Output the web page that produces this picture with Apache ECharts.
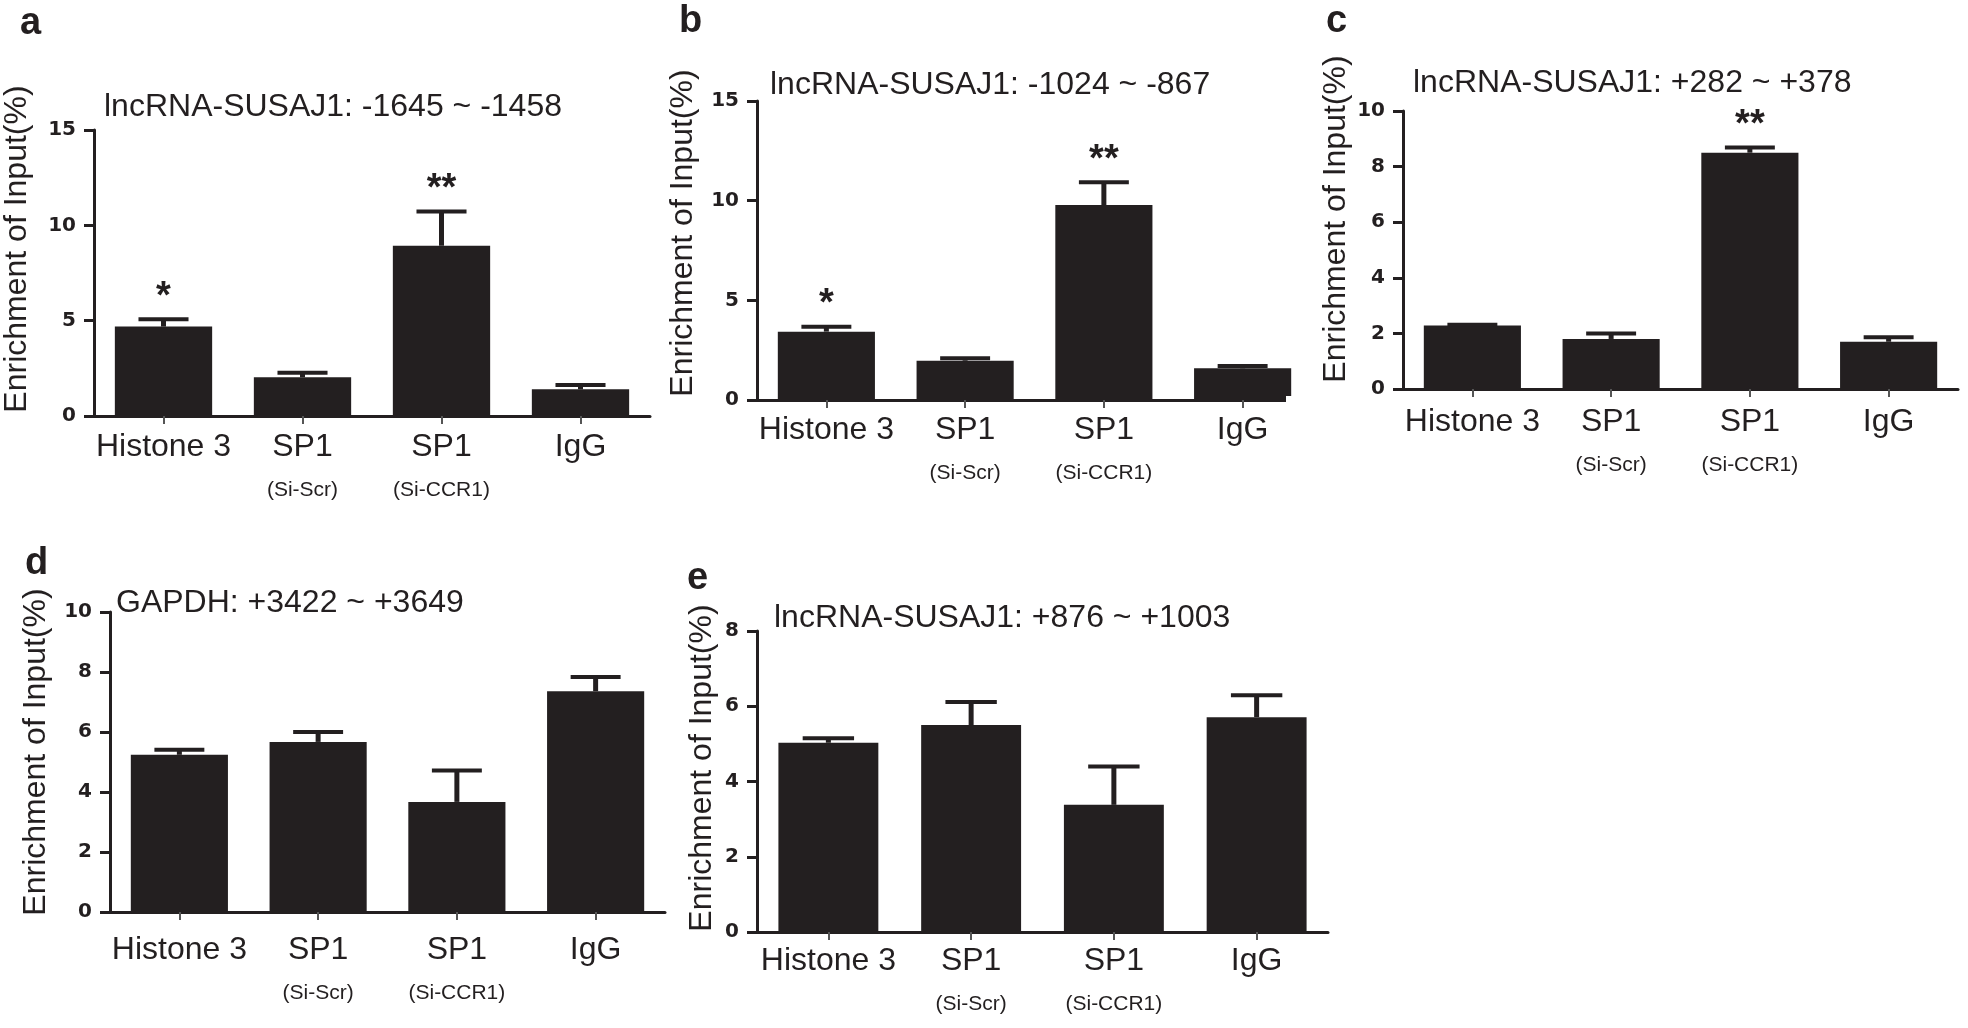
<!DOCTYPE html>
<html>
<head>
<meta charset="utf-8">
<script src="https://cdn.jsdelivr.net/npm/echarts@6/dist/echarts.min.js"></script>
<style>html,body{margin:0;padding:0;background:#fff}#c{width:1968px;height:1028px}</style>
</head>
<body>
<div id="c"></div>
<script>
// ---- data ----
const groups = ['Histone 3', 'SP1', 'SP1', 'IgG'];
const subLabels = ['', '(Si-Scr)', '(Si-CCR1)', ''];

const meanA = [4.69, 2.03, 8.93, 1.40];
const upperA = [5.07, 2.27, 10.72, 1.63];
const sigA = ['*', '', '**', ''];

const meanB = [3.43, 1.97, 9.78, 1.59];
const upperB = [3.68, 2.09, 10.92, 1.71];
const sigB = ['*', '', '**', ''];

const meanC = [2.28, 1.80, 8.50, 1.70];
const upperC = [2.31, 2.00, 8.69, 1.86];
const sigC = ['', '', '**', ''];

const meanD = [5.24, 5.67, 3.67, 7.36];
const upperD = [5.41, 6.00, 4.72, 7.83];
const sigD = ['', '', '', ''];

const meanE = [5.03, 5.50, 3.38, 5.71];
const upperE = [5.15, 6.11, 4.40, 6.29];
const sigE = ['', '', '', ''];

const titles = ['lncRNA-SUSAJ1: -1645 ~ -1458', 'lncRNA-SUSAJ1: -1024 ~ -867',
                'lncRNA-SUSAJ1: +282 ~ +378', 'GAPDH: +3422 ~ +3649', 'lncRNA-SUSAJ1: +876 ~ +1003'];
const letters = ['a', 'b', 'c', 'd', 'e'];
const yMax = [15, 15, 10, 10, 8];
const yStep = [5, 5, 2, 2, 2];
const yTitle = 'Enrichment of Input(%)';

// ---- layout ----
const FONT = "'Liberation Sans', Arial, Helvetica, sans-serif";
const INK = '#231f20';
const panels = [
  {grid: {left: 94, top: 130, width: 556, height: 286}, mean: meanA, upper: upperA, sig: sigA, margin: 12,
   letter: [20, 24], title: [104, 107], ytitle: [17, 249]},
  {grid: {left: 757, top: 101, width: 555, height: 299}, mean: meanB, upper: upperB, sig: sigB, margin: 11,
   letter: [679, 22], title: [770, 85], ytitle: [683, 233]},
  {grid: {left: 1403, top: 111, width: 555, height: 278}, mean: meanC, upper: upperC, sig: sigC, margin: 14,
   letter: [1326, 22], title: [1413, 83], ytitle: [1336, 219]},
  {grid: {left: 110, top: 612, width: 555, height: 300}, mean: meanD, upper: upperD, sig: sigD, margin: 19,
   letter: [25, 564], title: [116, 603], ytitle: [36, 752]},
  {grid: {left: 757, top: 631, width: 571, height: 312}, mean: meanE, upper: upperE, sig: sigE, margin: 10,
   letter: [687, 579], title: [774, 618], ytitle: [702, 768]}
];

const grids = [], xAxes = [], yAxes = [], series = [], graphics = [];
panels.forEach((p, k) => {
  grids.push(p.grid);
  xAxes.push({
    type: 'category', gridIndex: k, data: groups.map((g, i) => g + (subLabels[i] ? ' ' + subLabels[i] : '')),
    boundaryGap: true,
    axisLine: {lineStyle: {color: INK, width: 3}},
    axisTick: {show: true, alignWithLabel: true, length: 8, lineStyle: {color: '#555', width: 2}},
    axisLabel: {
      interval: 0, margin: p.margin, color: INK, fontFamily: FONT, fontSize: 32, lineHeight: 38,
      formatter: (v, i) => groups[i] + (subLabels[i] ? '\n{sub|' + subLabels[i] + '}' : ''),
      rich: {sub: {fontSize: 21, lineHeight: 48, fontFamily: FONT, color: INK}}
    },
    splitLine: {show: false}
  });
  yAxes.push({
    type: 'value', gridIndex: k, min: 0, max: yMax[k], interval: yStep[k],
    axisLine: {show: true, lineStyle: {color: INK, width: 3}},
    axisTick: {show: true, length: 10, lineStyle: {color: INK, width: 3}},
    axisLabel: {margin: 18, color: INK, fontFamily: "'DejaVu Sans', sans-serif", fontWeight: 'bold', fontSize: 20},
    splitLine: {show: false}
  });
  series.push({
    type: 'bar', xAxisIndex: k, yAxisIndex: k, data: p.mean, barWidth: '70%',
    itemStyle: {color: INK}, silent: true, animation: false
  });
  const sig = p.sig;
  series.push({
    type: 'custom', xAxisIndex: k, yAxisIndex: k, z: 5, animation: false, silent: true,
    data: p.mean.map((m, i) => [i, p.upper[i], m]),
    renderItem: (params, api) => {
      const i = api.value(0);
      const top = api.coord([i, api.value(1)]);
      const base = api.coord([i, api.value(2)]);
      const band = api.size([1, 0])[0];
      const half = band * 0.18;
      const children = [
        {type: 'line', shape: {x1: top[0], y1: base[1], x2: top[0], y2: top[1]}, style: {stroke: INK, lineWidth: 5}},
        {type: 'line', shape: {x1: top[0] - half, y1: top[1], x2: top[0] + half, y2: top[1]}, style: {stroke: INK, lineWidth: 4}}
      ];
      const s = sig[params.dataIndex];
      if (s) {
        children.push({type: 'text', style: {text: s, x: top[0], y: top[1] - 3, align: 'center', verticalAlign: 'bottom',
          font: 'bold 38px ' + FONT, fill: INK}});
      }
      return {type: 'group', children};
    }
  });
  graphics.push({type: 'text', x: p.letter[0], y: p.letter[1],
    style: {text: letters[k], font: 'bold 38px ' + FONT, fill: INK, align: 'left', verticalAlign: 'middle'}});
  graphics.push({type: 'text', x: p.title[0], y: p.title[1],
    style: {text: titles[k], font: '32px ' + FONT, fill: INK, align: 'left', verticalAlign: 'middle'}});
  graphics.push({type: 'text', x: p.ytitle[0], y: p.ytitle[1], rotation: Math.PI / 2,
    style: {text: yTitle, font: '32px ' + FONT, fill: INK, align: 'center', verticalAlign: 'middle'}});
});
// panel b's axis line is cut off at the last bar's edge in the original figure
graphics.push({type: 'rect', z: 100, shape: {x: 1286, y: 396, width: 30, height: 8}, style: {fill: '#fff'}});

const chart = echarts.init(document.getElementById('c'), null, {renderer: 'canvas'});
chart.setOption({
  backgroundColor: '#fff',
  animation: false,
  grid: grids, xAxis: xAxes, yAxis: yAxes, series: series, graphic: graphics
});
</script>
</body>
</html>
